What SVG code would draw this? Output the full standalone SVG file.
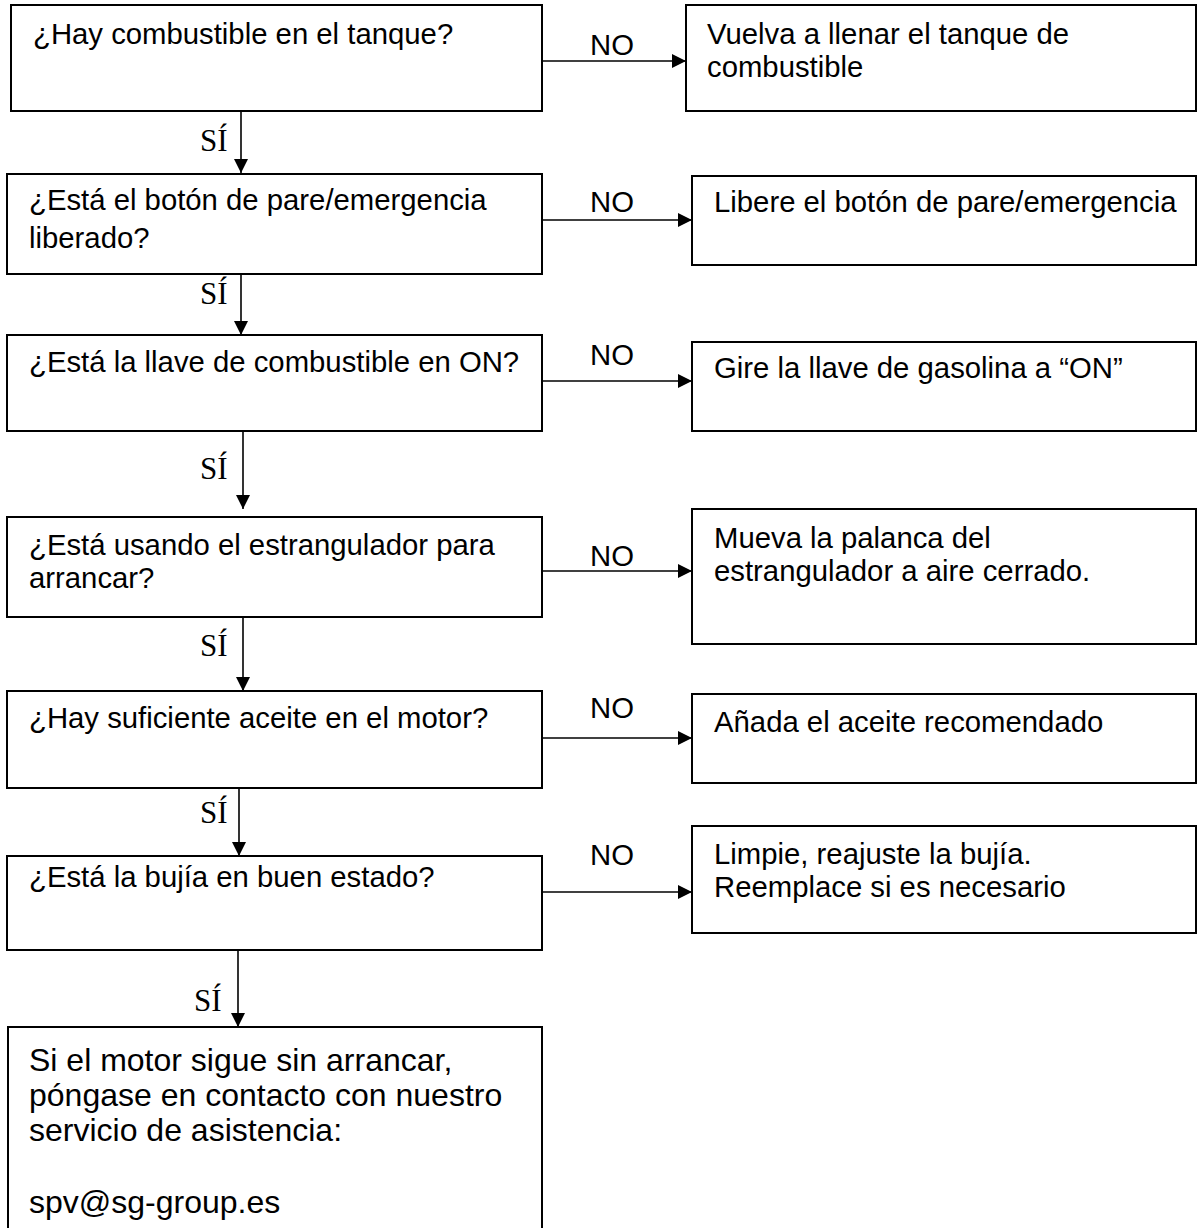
<svg xmlns="http://www.w3.org/2000/svg" width="1197" height="1228" viewBox="0 0 1197 1228">
<style>
.box{fill:#fff;stroke:#000;stroke-width:2}
.t{font-family:"Liberation Sans",Arial,sans-serif;font-size:29.3px;fill:#000}
.tb{font-family:"Liberation Sans",Arial,sans-serif;font-size:32px;fill:#000}
.si{font-family:"Liberation Serif","Times New Roman",serif;font-size:31px;fill:#000}
.c{stroke:#000;stroke-width:1.6;fill:none;marker-end:url(#ah)}
</style>
<defs>
<marker id="ah" markerUnits="userSpaceOnUse" markerWidth="16" markerHeight="16" refX="14" refY="7" orient="auto">
<path d="M0,0 L14,7 L0,14 z" fill="#000"/>
</marker>
</defs>
<rect width="1197" height="1228" fill="#fff"/>
<g id="connectors">
<line class="c" x1="542" y1="61" x2="686" y2="61"/>
<line class="c" x1="542" y1="220" x2="692" y2="220"/>
<line class="c" x1="542" y1="381" x2="692" y2="381"/>
<line class="c" x1="542" y1="571" x2="692" y2="571"/>
<line class="c" x1="542" y1="738" x2="692" y2="738"/>
<line class="c" x1="542" y1="892" x2="692" y2="892"/>
<line class="c" x1="241" y1="111" x2="241" y2="173"/>
<line class="c" x1="241" y1="274" x2="241" y2="335"/>
<line class="c" x1="243" y1="431" x2="243" y2="509"/>
<line class="c" x1="243" y1="617" x2="243" y2="691"/>
<line class="c" x1="239" y1="783" x2="239" y2="856"/>
<line class="c" x1="238" y1="950" x2="238" y2="1027"/>
<text class="t" x="590" y="55">NO</text>
<text class="t" x="590" y="212">NO</text>
<text class="t" x="590" y="365">NO</text>
<text class="t" x="590" y="566">NO</text>
<text class="t" x="590" y="718">NO</text>
<text class="t" x="590" y="865">NO</text>
<text class="si" x="200" y="151">SÍ</text>
<text class="si" x="200" y="304">SÍ</text>
<text class="si" x="200" y="479">SÍ</text>
<text class="si" x="200" y="656">SÍ</text>
<text class="si" x="200" y="823">SÍ</text>
<text class="si" x="194" y="1011">SÍ</text>
</g>
<g id="q1">
<rect class="box" x="11" y="5" width="531" height="106"/>
<text class="t" x="33" y="44">¿Hay combustible en el tanque?</text>
</g>
<g id="a1">
<rect class="box" x="686" y="5" width="510" height="106"/>
<text class="t" x="707" y="44">Vuelva a llenar el tanque de</text>
<text class="t" x="707" y="77">combustible</text>
</g>
<g id="q2">
<rect class="box" x="7" y="174" width="535" height="100"/>
<text class="t" x="29" y="210">¿Está el botón de pare/emergencia</text>
<text class="t" x="29" y="248">liberado?</text>
</g>
<g id="a2">
<rect class="box" x="692" y="176" width="504" height="89"/>
<text class="t" x="714" y="212">Libere el botón de pare/emergencia</text>
</g>
<g id="q3">
<rect class="box" x="7" y="335" width="535" height="96"/>
<text class="t" x="29" y="372">¿Está la llave de combustible en ON?</text>
</g>
<g id="a3">
<rect class="box" x="692" y="342" width="504" height="89"/>
<text class="t" x="714" y="378">Gire la llave de gasolina a “ON”</text>
</g>
<g id="q4">
<rect class="box" x="7" y="517" width="535" height="100"/>
<text class="t" x="29" y="555">¿Está usando el estrangulador para</text>
<text class="t" x="29" y="588">arrancar?</text>
</g>
<g id="a4">
<rect class="box" x="692" y="509" width="504" height="135"/>
<text class="t" x="714" y="548">Mueva la palanca del</text>
<text class="t" x="714" y="581">estrangulador a aire cerrado.</text>
</g>
<g id="q5">
<rect class="box" x="7" y="691" width="535" height="97"/>
<text class="t" x="29" y="728">¿Hay suficiente aceite en el motor?</text>
</g>
<g id="a5">
<rect class="box" x="692" y="694" width="504" height="89"/>
<text class="t" x="714" y="732">Añada el aceite recomendado</text>
</g>
<g id="q6">
<rect class="box" x="7" y="856" width="535" height="94"/>
<text class="t" x="29" y="887">¿Está la bujía en buen estado?</text>
</g>
<g id="a6">
<rect class="box" x="692" y="826" width="504" height="107"/>
<text class="t" x="714" y="864">Limpie, reajuste la bujía.</text>
<text class="t" x="714" y="897">Reemplace si es necesario</text>
</g>
<g id="end">
<rect class="box" x="8" y="1027" width="534" height="215"/>
<text class="tb" x="29" y="1071">Si el motor sigue sin arrancar,</text>
<text class="tb" x="29" y="1106">póngase en contacto con nuestro</text>
<text class="tb" x="29" y="1141">servicio de asistencia:</text>
<text class="tb" x="29" y="1213">spv@sg-group.es</text>
</g>
</svg>
